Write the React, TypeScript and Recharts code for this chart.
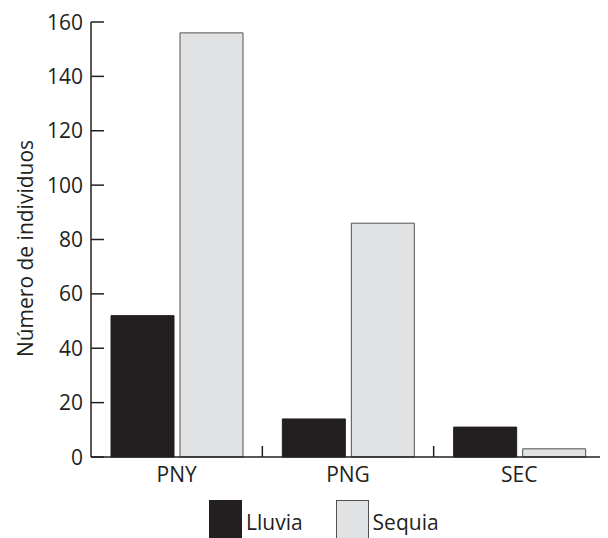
import { BarChart, Bar, XAxis, YAxis } from "recharts";

const sites = ["PNY", "PNG", "SEC"];
const lluvia = [52, 14, 11];
const sequia = [156, 86, 3];
const yTicks = [0, 20, 40, 60, 80, 100, 120, 140, 160];

const series = [
    { key: "lluvia", name: "Lluvia", fill: "#231f20", stroke: "#231f20" },
    { key: "sequia", name: "Sequia", fill: "#e1e2e4", stroke: "#505050" },
];

const data = sites.map((site, i) => ({ site, lluvia: lluvia[i], sequia: sequia[i] }));

const font = "'Open Sans', 'Liberation Sans', sans-serif";
const ink = "#231f20";

const YTick = (props: any) => {
    const { x, y, payload } = props;
    return (
        <g>
            <line x1={x} x2={x + 13} y1={y} y2={y} stroke={ink} strokeWidth={1.5} />
            <text x={x - 8} y={y} dy="0.36em" textAnchor="end" fontSize={21} fontFamily={font} fill={ink}>
                {payload.value}
            </text>
        </g>
    );
};

const XTick = (props: any) => {
    const { x, y, payload } = props;
    const half = payload.offset ?? 85.7;
    return (
        <g>
            <line x1={x + half} x2={x + half} y1={y} y2={y - 11} stroke={ink} strokeWidth={1.5} />
            <text x={x} y={y + 25} textAnchor="middle" fontSize={21} fontFamily={font} fill={ink}>
                {payload.value}
            </text>
        </g>
    );
};

const YLabel = (props: any) => {
    const vb = props.viewBox || { x: 0, y: 14, width: 83, height: 435 };
    const lx = vb.x + 25;
    const ly = vb.y + vb.height / 2 + 9;
    return (
        <text
            x={lx}
            y={ly}
            transform={`rotate(-90, ${lx}, ${ly})`}
            textAnchor="middle"
            fontSize={21}
            fontFamily={font}
            fill={ink}
        >
            Número de individuos
        </text>
    );
};

export default function App() {
    return (
        <div style={{ position: "relative", width: 600, height: 530, fontFamily: font }}>
            <BarChart
                width={600}
                height={530}
                data={data}
                margin={{ top: 14, right: 3, left: 0, bottom: 41 }}
                barCategoryGap={20}
                barGap={6}
            >
                <XAxis
                    dataKey="site"
                    height={40}
                    tickSize={0}
                    tickMargin={0}
                    tickLine={false}
                    axisLine={{ stroke: ink, strokeWidth: 1.5 }}
                    tick={<XTick />}
                    interval={0}
                />
                <YAxis
                    width={83}
                    domain={[0, 160]}
                    ticks={yTicks}
                    tickSize={0}
                    tickMargin={0}
                    tickLine={false}
                    axisLine={{ stroke: ink, strokeWidth: 1.5 }}
                    tick={<YTick />}
                    label={<YLabel />}
                />
                {series.map((s) => (
                    <Bar
                        key={s.key}
                        dataKey={s.key}
                        name={s.name}
                        fill={s.fill}
                        stroke={s.stroke}
                        strokeWidth={1}
                        isAnimationActive={false}
                    />
                ))}
            </BarChart>

            {/* legend, under the axis */}
            <div style={{ position: "absolute", left: 201, top: 492, display: "flex", gap: 33 }}>
                {series.map((s) => (
                    <div key={s.key} style={{ display: "flex", alignItems: "flex-start", gap: 4 }}>
                        <div
                            style={{
                                width: 31,
                                height: 44,
                                background: s.fill,
                                border: `1px solid ${s.stroke}`,
                            }}
                        />
                        <span style={{ fontSize: 21, color: ink, lineHeight: "26px", marginTop: 9 }}>{s.name}</span>
                    </div>
                ))}
            </div>
        </div>
    );
}
